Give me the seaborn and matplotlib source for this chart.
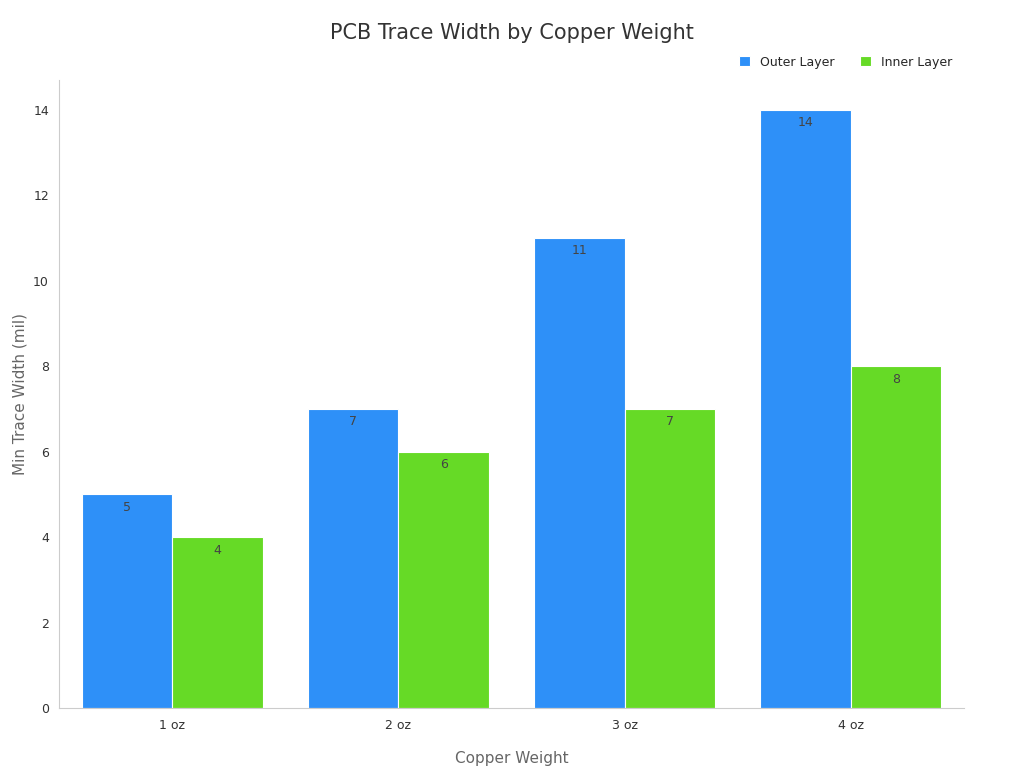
import matplotlib
matplotlib.use("Agg")
import matplotlib.pyplot as plt
import seaborn as sns
import pandas as pd

categories = ["1 oz", "2 oz", "3 oz", "4 oz"]
outer = [5, 7, 11, 14]
inner = [4, 6, 7, 8]

df = pd.DataFrame({
    "Copper Weight": categories * 2,
    "Width": outer + inner,
    "Layer": ["Outer Layer"] * 4 + ["Inner Layer"] * 4,
})

sns.set_style("white")
plt.rcParams['font.family'] = ['DejaVu Sans']
fig = plt.figure(figsize=(10.24, 7.68), dpi=100)
ax = fig.add_axes([0.058, 0.078, 0.883, 0.818])
sns.barplot(data=df, x="Copper Weight", y="Width", hue="Layer",
            palette=["#2E90F8", "#66DA26"], width=0.8, ax=ax,
            edgecolor="white", linewidth=0.8, saturation=1)
for c in ax.containers:
    ax.bar_label(c, labels=[f"{v:g}" for v in c.datavalues], padding=-14,
                 fontsize=9, color="#444444")
ax.set_ylim(0, 14.7)
ax.set_yticks(range(0, 15, 2))
ax.set_xlabel("Copper Weight", fontsize=11, color="#666666", labelpad=14)
ax.set_ylabel("Min Trace Width (mil)", fontsize=11, color="#666666")
ax.tick_params(axis="both", labelsize=9, colors="#333333", length=4)
ax.tick_params(axis="both", color="#999999")
for s in ["top", "right"]:
    ax.spines[s].set_visible(False)
for s in ["left", "bottom"]:
    ax.spines[s].set_color("#cccccc")
fig.suptitle("PCB Trace Width by Copper Weight", fontsize=15, color="#333333", y=0.97)
ax.legend(loc="lower right", bbox_to_anchor=(1.0, 1.0), ncol=2, frameon=False,
          fontsize=9, handlelength=0.9, handleheight=0.9, columnspacing=2)
fig.savefig("out.png", dpi=100)
